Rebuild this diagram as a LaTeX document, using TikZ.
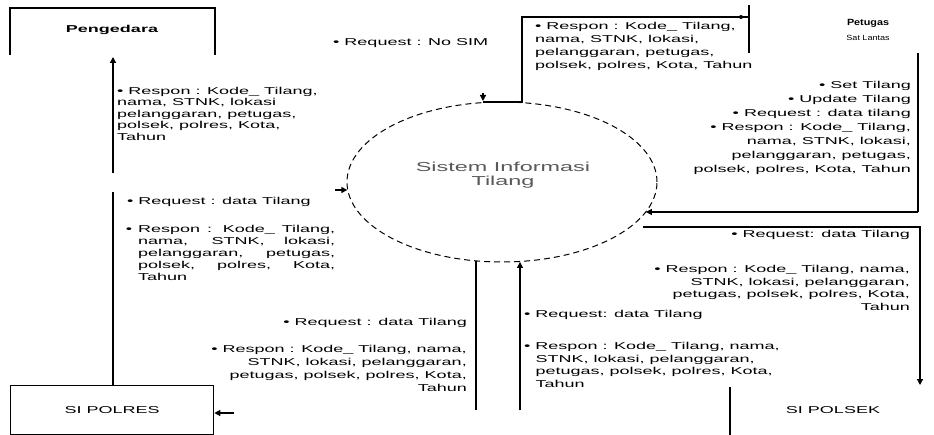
\documentclass[tikz,border=0pt]{standalone}
\usepackage{fontspec}
\setmainfont{Liberation Sans}[FakeStretch=1.8]
\newfontfamily\narrowfont{Liberation Sans}[FakeStretch=1.2]
\usetikzlibrary{arrows.meta,shapes.geometric}
\begin{document}
\begin{tikzpicture}[x=1pt,y=-1pt,
  line/.style={line width=1.3pt},
  arr/.style={line width=1.3pt,-{Triangle[length=6pt,width=6pt]}},
  txt/.style={inner sep=0pt,font=\fontsize{10}{12.5}\selectfont},
  sysbox/.style={ellipse,draw,line width=1pt,dash pattern=on 6pt off 4pt,
    minimum width=310pt,minimum height=160pt,inner sep=0pt},
  entbox/.style={draw,line width=1.3pt,minimum width=203pt,minimum height=49pt,
    inner sep=0pt,font=\fontsize{10}{12}\selectfont}]
\useasboundingbox (0,0) rectangle (934,435);

% ---------- central process ----------
\node[sysbox] (sys) at (502,182) {};
\node[inner sep=0pt,align=center,text=black!65,font=\fontsize{13}{14}\selectfont] (systxt) at (503,175) {Sistem Informasi\\Tilang};

% ---------- Pengedara ----------
\coordinate (pA) at (10,55);
\coordinate (pB) at (10,8);
\coordinate (pC) at (215,8);
\coordinate (pD) at (215,55);
\draw[line] (pA) -- (pB) -- (pC) -- (pD);
\node[inner sep=0pt,font=\bfseries\fontsize{10}{12}\selectfont] (peng) at (112,30) {Pengedara};

% ---------- SI POLRES ----------
\node[entbox,anchor=north west] (polres) at (10,385) {SI POLRES};
\coordinate (v1) at (113,192);
\coordinate (v2) at (113,173);
\coordinate (v3) at (113,57);
\draw[line] (v1 |- polres.north) -- (v1);
\draw[arr] (v2) -- (v3);
\coordinate (s1) at (234,413);
\draw[arr] (s1) -- (s1 -| polres.east);

% ---------- left stub into process ----------
\coordinate (l1) at (335,190);
\draw[arr] (l1) -- (l1 -| sys.183);

% ---------- Petugas ----------
\coordinate (g1) at (749,5);
\coordinate (g2) at (749,53);
\draw[line] (g1) -- (g2);
\node[inner sep=0pt,font=\narrowfont\bfseries\fontsize{9}{10}\selectfont] (pet) at (868,23) {Petugas};
\node[inner sep=0pt,font=\narrowfont\fontsize{7.5}{9}\selectfont] (sat) at (868,38) {Sat Lantas};

% connector Petugas -> process (top)
\coordinate (c1) at (749,17);
\coordinate (c2) at (522,17);
\coordinate (c3) at (522,102);
\coordinate (c4) at (483,102);
\coordinate (c5) at (483,93);
\draw[line] (c1) -- (c2) -- (c3) -- (c4);
\fill (741,17) circle (2pt);
\draw[arr] (c5) -- (483,101);

% connector Petugas right side -> process
\coordinate (r0) at (918,53);
\coordinate (r1) at (918,212);
\draw[line] (r0) -- (r1);
\draw[arr] (r1) -- (r1 -| sys.-12);

% connector process -> SI POLSEK
\coordinate (q0) at (643,227);
\coordinate (q1) at (920,227);
\coordinate (q2) at (920,385);
\draw[arr] (q0) -- (q1) -- (q2);
\node[txt] (polsek) at (833,410) {SI POLSEK};

% bottom connectors
\coordinate (b1) at (520,410);
\draw[arr] (b1) -- (b1 |- sys.-77);
\coordinate (b2) at (476,410);
\draw[line] (b2 |- sys.252) -- (b2);
\coordinate (b3) at (730,387);
\coordinate (b4) at (730,435);
\draw[line] (b3) -- (b4);

% ---------- labels ----------
\node[txt,anchor=west] (reqsim) at (333,43) {• Request : No SIM};

\node[txt,anchor=north west,align=left,font=\fontsize{10}{11.5}\selectfont] (lt) at (117,87)
  {• Respon : Kode\_ Tilang,\\nama, STNK, lokasi\\pelanggaran, petugas,\\polsek, polres, Kota,\\Tahun};

\node[txt,anchor=west] (lmreq) at (127,202) {• Request : data Tilang};
\node[txt] (lmbul) at (129,230) {•};
\node[txt,anchor=north west,text width=197pt,align=justify,font=\fontsize{10}{12}\selectfont] (lm) at (138,225)
  {Respon : Kode\_ Tilang,\linebreak nama, STNK, lokasi,\linebreak pelanggaran, petugas,\linebreak polsek, polres, Kota,\linebreak Tahun};

\node[txt,anchor=north west,align=left,font=\fontsize{10}{13}\selectfont] (tr) at (535,22)
  {• Respon : Kode\_ Tilang,\\nama, STNK, lokasi,\\pelanggaran, petugas,\\polsek, polres, Kota, Tahun};

\node[txt,anchor=north east,align=right,font=\fontsize{10}{14}\selectfont] (pr) at (911,81)
  {• Set Tilang\\• Update Tilang\\• Request : data tilang\\• Respon : Kode\_ Tilang,\\nama, STNK, lokasi,\\pelanggaran, petugas,\\polsek, polres, Kota, Tahun};

\node[txt,anchor=east] (rmreq) at (910,235) {• Request: data Tilang};
\node[txt,anchor=north east,align=right,font=\fontsize{10}{12.7}\selectfont] (rm) at (910,265)
  {• Respon : Kode\_ Tilang, nama,\\STNK, lokasi, pelanggaran,\\petugas, polsek, polres, Kota,\\Tahun};

\node[txt,anchor=west] (brreq) at (524,315) {• Request: data Tilang};
\node[txt,anchor=north west,align=left,font=\fontsize{10}{12.7}\selectfont] (br) at (524,342)
  {• Respon : Kode\_ Tilang, nama,\\\phantom{• }STNK, lokasi, pelanggaran,\\\phantom{• }petugas, polsek, polres, Kota,\\\phantom{• }Tahun};

\node[txt,anchor=east] (blreq) at (467,323) {• Request : data Tilang};
\node[txt,anchor=north east,align=right,font=\fontsize{10}{13}\selectfont] (bl) at (467,345)
  {• Respon : Kode\_ Tilang, nama,\\STNK, lokasi, pelanggaran,\\petugas, polsek, polres, Kota,\\Tahun};
\end{tikzpicture}
\end{document}
